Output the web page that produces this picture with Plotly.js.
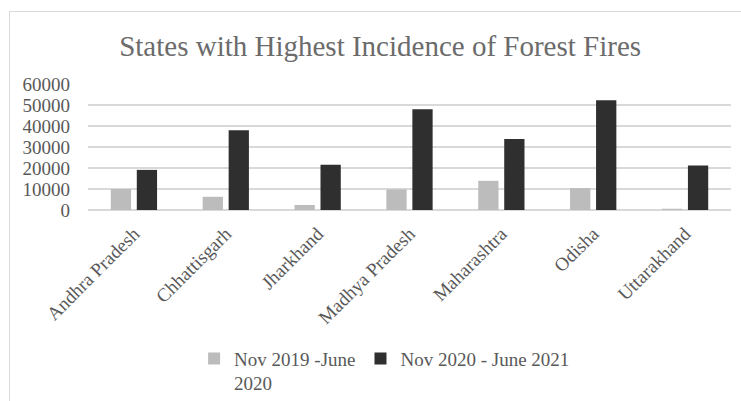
<!DOCTYPE html>
<html>
<head>
<meta charset="utf-8">
<script src="https://cdn.plot.ly/plotly-3.0.1.min.js"></script>
<style>
html,body{margin:0;padding:0;background:#fff;width:741px;height:401px;overflow:hidden;}
#frame{position:absolute;left:9px;top:11px;width:800px;height:500px;border-left:1.5px solid #d9d9d9;border-top:1.5px solid #d9d9d9;}
#chart{position:absolute;left:0;top:0;width:741px;height:401px;}
</style>
</head>
<body>
<div id="frame"></div>
<div id="chart"></div>
<script>
const states = ["Andhra Pradesh","Chhattisgarh","Jharkhand","Madhya Pradesh","Maharashtra","Odisha","Uttarakhand"];
const series1Name = "Nov 2019 -June<br>2020";
const series2Name = "Nov 2020 - June 2021";
const fires2019_20 = [10000, 6300, 2400, 9800, 13900, 10400, 600];
const fires2020_21 = [19100, 38000, 21500, 48000, 33800, 52300, 21200];
const yTicks = [0, 10000, 20000, 30000, 40000, 50000, 60000];

const fontFam = "Liberation Serif, serif";
const txt = "#595959";

const data = [
  {type:"bar", x:states, y:fires2019_20, name:series1Name, marker:{color:"#bcbcbc"}},
  {type:"bar", x:states, y:fires2020_21, name:series2Name, marker:{color:"#2f2f2f"}}
];
const layout = {
  width:741, height:401,
  paper_bgcolor:"rgba(0,0,0,0)", plot_bgcolor:"rgba(0,0,0,0)",
  margin:{l:88, r:10, t:84, b:191, pad:0, autoexpand:false},
  font:{family:fontFam, color:txt, size:19},
  title:{text:"States with Highest Incidence of Forest Fires", font:{family:fontFam, size:29, color:"#6b6b6b"}, x:0.513, xanchor:"center", y:0.885, yanchor:"middle"},
  barmode:"group", bargap:0.434, bargroupgap:0.22,
  xaxis:{tickangle:-45, automargin:false, showgrid:false, showline:false, ticks:"", ticklabelstandoff:8, tickfont:{size:19, color:txt}, fixedrange:true},
  yaxis:{range:[0,60000], automargin:false, tickvals:yTicks, ticktext:yTicks.map(String), showgrid:true, gridcolor:"#d9d9d9", gridwidth:1.5, zeroline:true, zerolinecolor:"#d9d9d9", zerolinewidth:1.5, showline:false, ticks:"", ticklabelstandoff:17, tickfont:{size:19, color:txt}, fixedrange:true},
  showlegend:true,
  legend:{orientation:"h", x:0.165, xanchor:"left", y:-1.028, yanchor:"top", valign:"top", font:{size:19, color:txt}, traceorder:"normal", itemwidth:30}
};
Plotly.newPlot("chart", data, layout, {displayModeBar:false, staticPlot:true});
</script>
</body>
</html>
